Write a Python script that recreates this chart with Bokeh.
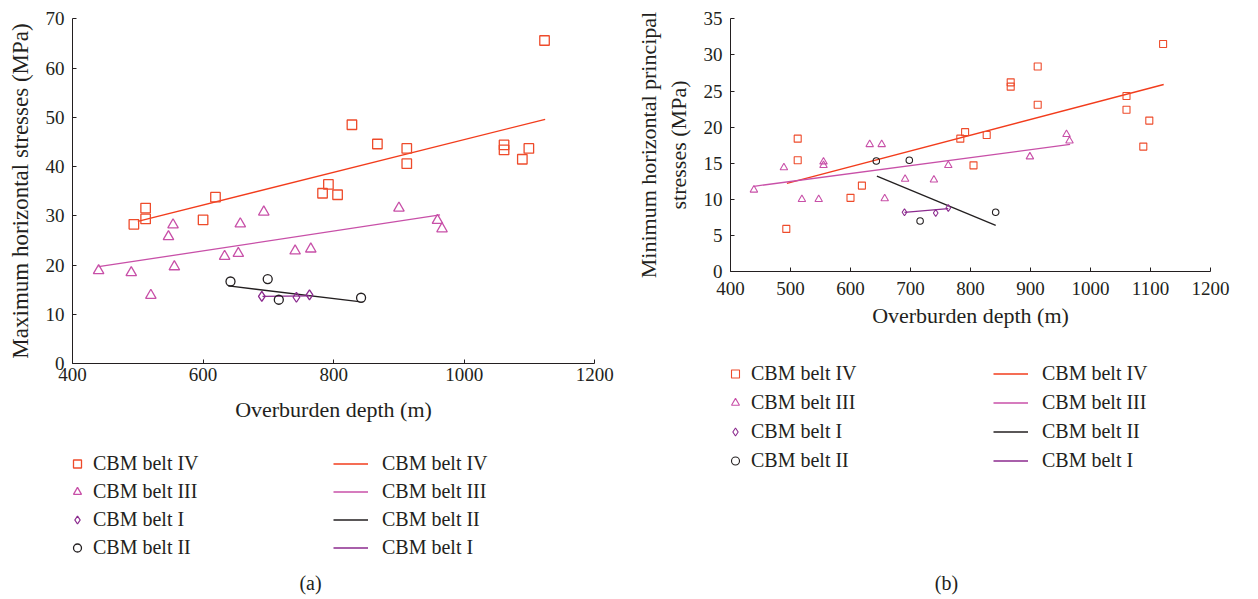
from bokeh.plotting import figure
from bokeh.models import Range1d, SingleIntervalTicker, Legend, LegendItem, Label
from bokeh.layouts import row
from bokeh.embed import file_html
from bokeh.resources import INLINE

# ---------------- data: panel (a) maximum horizontal stress ----------------
a_iv_depth = [494, 512, 512, 600, 619, 783, 792, 806, 828, 867, 912, 912, 1061, 1061, 1089, 1099, 1123]
a_iv_stress = [28.3, 31.6, 29.4, 29.2, 33.8, 34.6, 36.4, 34.3, 48.5, 44.6, 43.7, 40.6, 44.4, 43.4, 41.5, 43.7, 65.6]
a_iii_depth = [440, 490, 520, 547, 554, 556, 633, 654, 657, 693, 741, 765, 900, 959, 966]
a_iii_stress = [18.9, 18.5, 13.9, 25.8, 28.2, 19.7, 21.8, 22.4, 28.4, 30.8, 22.9, 23.3, 31.6, 29.1, 27.4]
a_i_depth = [690, 743, 763]
a_i_stress = [13.7, 13.5, 14.0]
a_ii_depth = [642, 699, 716, 842]
a_ii_stress = [16.7, 17.2, 13.0, 13.4]
# fitted trend lines (end points)
a_fit_iv_x, a_fit_iv_y = [500, 1124], [28.9, 49.6]
a_fit_iii_x, a_fit_iii_y = [440, 963], [19.7, 30.2]
a_fit_ii_x, a_fit_ii_y = [639, 839], [15.8, 12.6]
a_fit_i_x, a_fit_i_y = [691, 763], [13.7, 13.8]

# ---------------- data: panel (b) minimum horizontal principal stress ----------------
b_iv_depth = [493, 512, 512, 600, 619, 783, 791, 805, 827, 867, 867, 912, 912, 1060, 1060, 1088, 1098, 1121]
b_iv_stress = [5.9, 18.4, 15.4, 10.2, 11.9, 18.4, 19.3, 14.7, 18.9, 26.2, 25.6, 28.4, 23.1, 24.3, 22.4, 17.3, 20.9, 31.5]
b_iii_depth = [439, 489, 519, 547, 555, 555, 632, 652, 657, 691, 739, 763, 899, 960, 965]
b_iii_stress = [11.3, 14.4, 10.0, 10.0, 15.2, 14.7, 17.6, 17.6, 10.1, 12.8, 12.7, 14.7, 15.9, 19.0, 18.1]
b_i_depth = [690, 742, 763]
b_i_stress = [8.2, 8.1, 8.8]
b_ii_depth = [643, 698, 716, 842]
b_ii_stress = [15.3, 15.4, 7.0, 8.2]
b_fit_iv_x, b_fit_iv_y = [494, 1122], [12.2, 25.9]
b_fit_iii_x, b_fit_iii_y = [439, 966], [11.8, 17.6]
b_fit_ii_x, b_fit_ii_y = [644, 842], [13.2, 6.4]
b_fit_i_x, b_fit_i_y = [690, 763], [8.2, 8.7]

marker_labels = ["CBM belt IV", "CBM belt III", "CBM belt I", "CBM belt II"]
line_labels = ["CBM belt IV", "CBM belt III", "CBM belt II", "CBM belt I"]

FONT = "Liberation Serif"
TXT = "#231f20"
C_IV = "#ee4b2b"
C_IV_LINE = "#f23c1c"
C_III = "#c850a8"
C_I = "#8b2a8e"
C_II = "#231f20"

W, H = 629, 599


def panel(xmin, xmax, ymax, px_left, px_right, px_top, px_bottom,
          data, fits, msizes, mlw, xlabel, ylabel, xint, yint, stand, title_sizes,
          leg_left, leg_right, leg_y, leg_spacing, tag, tag_x):
    # map the axis box (pixels inside this canvas) onto data ranges
    kx = (px_right - px_left) / (xmax - xmin)
    ky = (px_bottom - px_top) / (ymax - 0)
    xr = Range1d(xmin - px_left / kx, xmax + (W - px_right) / kx)
    yr = Range1d(0 - (H - px_bottom) / ky, ymax + px_top / ky)

    p = figure(width=W, height=H, output_backend="svg", toolbar_location=None,
               x_range=xr, y_range=yr,
               min_border_left=0, min_border_right=0, min_border_top=0, min_border_bottom=0)
    p.background_fill_color = "white"
    p.border_fill_color = "white"
    p.outline_line_color = None
    p.xgrid.grid_line_color = None
    p.ygrid.grid_line_color = None

    p.xaxis.fixed_location = 0
    p.yaxis.fixed_location = xmin
    p.xaxis.bounds = (xmin, xmax)
    p.yaxis.bounds = (0, ymax)
    p.xaxis.axis_label = xlabel
    p.yaxis.axis_label = ylabel
    p.xaxis.ticker = SingleIntervalTicker(interval=xint, num_minor_ticks=0)
    p.yaxis.ticker = SingleIntervalTicker(interval=yint, num_minor_ticks=0)
    for ax in (p.xaxis[0], p.yaxis[0]):
        ax.axis_line_color = TXT
        ax.axis_line_width = 1
        ax.major_tick_line_color = TXT
        ax.major_tick_in = 4
        ax.major_tick_out = 0
        ax.minor_tick_line_color = None
        ax.major_label_text_font = FONT
        ax.major_label_text_font_size = "19px"
        ax.major_label_text_color = TXT
        ax.axis_label_text_font = FONT
        ax.axis_label_text_font_style = "normal"
        ax.axis_label_text_color = TXT
    p.xaxis.axis_label_text_font_size = title_sizes[0]
    p.yaxis.axis_label_text_font_size = title_sizes[1]
    p.xaxis.major_label_standoff = stand[0]
    p.xaxis.axis_label_standoff = stand[1]
    p.yaxis.major_label_standoff = stand[2]
    p.yaxis.axis_label_standoff = stand[3]

    (iv_x, iv_y), (iii_x, iii_y), (i_x, i_y), (ii_x, ii_y) = data
    (fiv_x, fiv_y), (fiii_x, fiii_y), (fii_x, fii_y), (fi_x, fi_y) = fits

    l_iv = p.line(fiv_x, fiv_y, line_color=C_IV_LINE, line_width=1.3)
    l_iii = p.line(fiii_x, fiii_y, line_color=C_III, line_width=1.3)
    l_ii = p.line(fii_x, fii_y, line_color=C_II, line_width=1.3)
    l_i = p.line(fi_x, fi_y, line_color=C_I, line_width=1.3)

    s_iv = p.scatter(iv_x, iv_y, marker="square", size=msizes[0], fill_color=None,
                     line_color=C_IV, line_width=mlw)
    s_iii = p.scatter(iii_x, iii_y, marker="triangle", size=msizes[1], fill_color=None,
                      line_color=C_III, line_width=mlw)
    s_i = p.scatter(i_x, i_y, marker="diamond", size=msizes[2], fill_color=None,
                    line_color=C_I, line_width=mlw)
    s_ii = p.scatter(ii_x, ii_y, marker="circle", size=msizes[3], fill_color=None,
                     line_color=C_II, line_width=mlw)

    common = dict(padding=0, spacing=leg_spacing, label_height=21, glyph_height=21,
                  label_text_font=FONT, label_text_font_size="20px", label_text_color=TXT,
                  border_line_color=None, background_fill_alpha=0, margin=0)
    leg1 = Legend(items=[LegendItem(label=marker_labels[0], renderers=[s_iv]),
                         LegendItem(label=marker_labels[1], renderers=[s_iii]),
                         LegendItem(label=marker_labels[2], renderers=[s_i]),
                         LegendItem(label=marker_labels[3], renderers=[s_ii])],
                  location=(leg_left, leg_y), glyph_width=20, label_standoff=6, **common)
    leg2 = Legend(items=[LegendItem(label=line_labels[0], renderers=[l_iv]),
                         LegendItem(label=line_labels[1], renderers=[l_iii]),
                         LegendItem(label=line_labels[2], renderers=[l_ii]),
                         LegendItem(label=line_labels[3], renderers=[l_i])],
                  location=(leg_right, leg_y), glyph_width=35, label_standoff=14, **common)
    p.add_layout(leg1)
    p.add_layout(leg2)

    p.add_layout(Label(x=tag_x, y=17, x_units="screen", y_units="screen", text=tag,
                       text_font=FONT, text_font_size="20px", text_color=TXT,
                       text_align="center", text_baseline="middle"))
    return p


pa = panel(400, 1200, 70, 72, 594.3, 18.3, 363.3,
           [(a_iv_depth, a_iv_stress), (a_iii_depth, a_iii_stress), (a_i_depth, a_i_stress), (a_ii_depth, a_ii_stress)],
           [(a_fit_iv_x, a_fit_iv_y), (a_fit_iii_x, a_fit_iii_y), (a_fit_ii_x, a_fit_ii_y), (a_fit_i_x, a_fit_i_y)],
           (9.5, 10.5, 10, 9), 1.3,
           "Overburden depth (m)", "Maximum horizontal stresses (MPa)",
           200, 10, (4, 13, 8, 10), ("22px", "23px"), 67, 333, 40, 5, "(a)", 310)

pb = panel(400, 1200, 35, 101, 581, 18.3, 271,
           [(b_iv_depth, b_iv_stress), (b_iii_depth, b_iii_stress), (b_i_depth, b_i_stress), (b_ii_depth, b_ii_stress)],
           [(b_fit_iv_x, b_fit_iv_y), (b_fit_iii_x, b_fit_iii_y), (b_fit_ii_x, b_fit_ii_y), (b_fit_i_x, b_fit_i_y)],
           (7, 7.5, 7, 6.5), 1.1,
           "Overburden depth (m)", "Minimum horizontal principal\nstresses (MPa)",
           100, 5, (10, 5, 8, 10), ("22px", "22px"), 96, 364, 127, 6, "(b)", 317)

layout = row(pa, pb)
open("out.html", "w").write(file_html(layout, INLINE))
